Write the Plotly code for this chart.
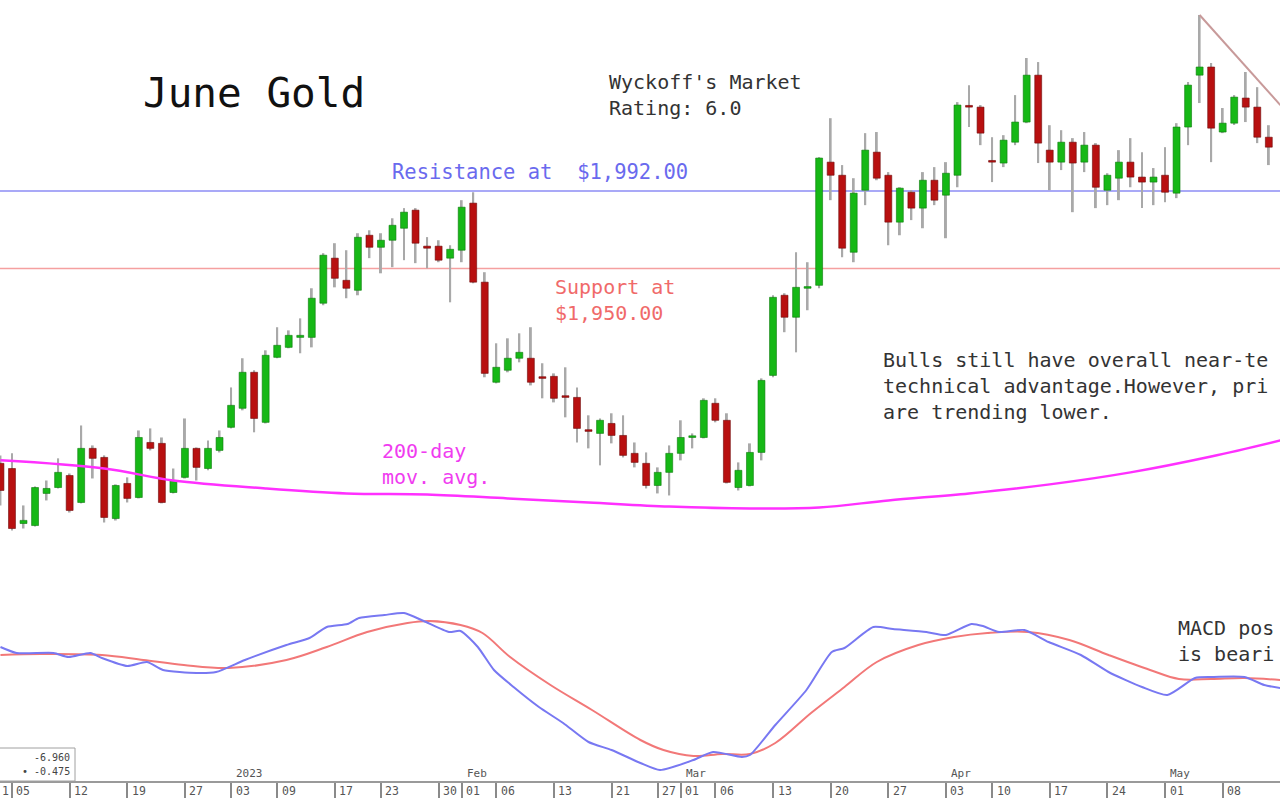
import plotly.graph_objects as go

# ---------------- data ----------------
day = list(range(-1, 110))  # trading-day index, 0 = 2022-12-05
open_ = [1844.5, 1841.7, 1811.9, 1810.8, 1828.2, 1831.4, 1837.9, 1823.3, 1852.6, 1847.7,
         1814.6, 1833.6, 1826.0, 1855.8, 1855.3, 1828.7, 1836.9, 1852.6, 1841.7, 1851.5,
         1864.0, 1874.3, 1893.8, 1866.7, 1901.9, 1907.3, 1912.7, 1912.7, 1931.2, 1955.6,
         1943.6, 1938.2, 1968.0, 1961.5, 1965.3, 1971.8, 1981.6, 1962.1, 1962.1, 1955.6,
         1959.9, 1985.4, 1942.6, 1888.4, 1894.9, 1901.4, 1901.4, 1891.1, 1891.6, 1880.8,
         1880.2, 1862.3, 1860.7, 1866.1, 1859.6, 1849.9, 1844.5, 1832.5, 1839.6, 1849.9,
         1858.5, 1858.5, 1877.0, 1867.8, 1831.4, 1832.5, 1850.4, 1892.1, 1935.5, 1923.6,
         1939.3, 1940.9, 2007.6, 2000.5, 1958.8, 1992.4, 2013.0, 2000.5, 1975.1, 1991.3,
         1982.7, 1997.8, 1989.7, 2000.5, 2037.9, 2037.4, 2008.1, 2007.1, 2018.4, 2029.3,
         2054.7, 2014.1, 2007.6, 2018.4, 2007.6, 2016.8, 1992.4, 1998.9, 2007.6, 1999.5,
         1996.8, 2000.5, 1990.8, 2026.6, 2054.7, 2059.1, 2023.9, 2028.7, 2042.3, 2037.4,
         2021.1]
high = [1848.8, 1849.9, 1821.7, 1832.0, 1835.2, 1847.2, 1839.0, 1865.0, 1854.2, 1848.8,
        1833.1, 1836.9, 1862.3, 1863.4, 1858.5, 1841.7, 1868.8, 1853.1, 1856.9, 1862.3,
        1885.6, 1901.4, 1894.9, 1905.7, 1918.2, 1916.5, 1923.0, 1939.3, 1958.3, 1963.7,
        1959.9, 1969.1, 1970.7, 1969.1, 1977.2, 1982.7, 1982.7, 1967.0, 1965.3, 1962.6,
        1987.0, 1991.3, 1948.0, 1909.5, 1912.2, 1914.9, 1918.2, 1898.7, 1893.2, 1896.5,
        1885.6, 1870.5, 1868.8, 1871.6, 1870.5, 1855.8, 1850.4, 1842.3, 1854.2, 1867.8,
        1860.7, 1879.7, 1879.7, 1871.6, 1845.0, 1855.3, 1890.5, 1935.5, 1936.6, 1958.8,
        1953.4, 2010.3, 2031.4, 2006.0, 1998.9, 2023.3, 2023.9, 2002.2, 1994.0, 1992.4,
        2002.2, 2004.9, 2007.6, 2040.1, 2049.3, 2038.5, 2021.1, 2022.2, 2043.9, 2064.0,
        2061.8, 2027.6, 2024.9, 2020.6, 2023.9, 2017.9, 2001.6, 2014.1, 2020.6, 2013.0,
        2004.4, 2015.7, 2028.7, 2051.0, 2087.3, 2061.3, 2036.9, 2043.9, 2056.4, 2048.2,
        2027.6]
low = [1821.7, 1808.1, 1809.2, 1810.3, 1824.4, 1830.9, 1817.9, 1822.8, 1836.3, 1812.5,
       1813.6, 1823.3, 1825.5, 1851.5, 1822.8, 1828.2, 1836.3, 1835.2, 1840.7, 1850.4,
       1863.4, 1873.2, 1861.3, 1866.1, 1901.4, 1906.8, 1904.1, 1907.3, 1930.1, 1939.8,
       1933.9, 1935.5, 1955.6, 1947.4, 1950.7, 1954.5, 1952.9, 1950.1, 1953.4, 1931.7,
       1953.4, 1942.0, 1891.1, 1887.8, 1893.8, 1899.2, 1886.7, 1879.7, 1877.5, 1869.4,
       1855.8, 1852.6, 1843.4, 1855.3, 1847.7, 1842.3, 1830.9, 1828.2, 1827.1, 1846.1,
       1852.6, 1858.0, 1866.7, 1833.6, 1829.8, 1832.0, 1846.1, 1891.1, 1915.5, 1904.6,
       1927.4, 1939.3, 1987.0, 1956.1, 1953.4, 1984.3, 1997.8, 1962.6, 1968.0, 1976.2,
       1971.8, 1984.3, 1966.4, 1994.0, 2026.6, 2016.8, 1996.8, 2004.9, 2016.8, 2028.7,
       2007.1, 1992.4, 2003.3, 1980.5, 2002.2, 1982.7, 1984.3, 1987.0, 1994.0, 1982.7,
       1984.3, 1985.9, 1988.1, 2016.8, 2039.6, 2007.6, 2023.3, 2027.7, 2029.3, 2017.9,
       2006.0]
close = [1829.8, 1809.2, 1813.6, 1831.4, 1830.9, 1839.6, 1819.0, 1852.6, 1847.2, 1815.2,
         1832.5, 1825.5, 1858.5, 1852.6, 1823.3, 1835.2, 1852.6, 1842.3, 1852.6, 1858.5,
         1875.9, 1893.8, 1868.8, 1903.0, 1908.4, 1913.8, 1913.8, 1933.9, 1957.2, 1944.7,
         1939.3, 1966.9, 1961.5, 1965.3, 1973.4, 1980.5, 1963.7, 1961.0, 1954.5, 1960.4,
         1983.2, 1942.6, 1893.2, 1896.5, 1901.4, 1904.6, 1888.4, 1890.5, 1879.7, 1880.2,
         1863.4, 1861.8, 1867.8, 1859.6, 1848.8, 1845.0, 1832.5, 1839.6, 1849.9, 1858.5,
         1859.1, 1878.6, 1867.8, 1834.2, 1840.7, 1850.4, 1889.4, 1934.4, 1923.6, 1939.8,
         1939.8, 2009.8, 2000.5, 1961.0, 1990.8, 2014.1, 1998.9, 1975.1, 1993.5, 1982.7,
         1997.8, 1987.0, 2001.6, 2038.5, 2037.4, 2023.3, 2007.6, 2019.5, 2029.3, 2054.7,
         2017.9, 2007.6, 2018.4, 2007.1, 2016.8, 1994.0, 2000.5, 2007.6, 1999.5, 1996.8,
         1999.5, 1991.3, 2026.6, 2049.3, 2059.1, 2026.0, 2028.7, 2042.8, 2037.4, 2021.1,
         2015.7]

ma_day = [-1, 8, 14, 22, 29, 36, 43, 50, 57, 64, 70, 76, 83, 90, 97, 104, 110]
ma_val = [1846.1, 1841.7, 1835.2, 1830.9, 1828.2, 1827.6, 1825.5, 1823.3, 1821.1, 1820.1,
          1820.6, 1824.4, 1828.2, 1833.1, 1839.6, 1848.2, 1856.9]

macd_day = [-1, 0.4, 3.6, 4.9, 6.8, 7.8, 10, 11.7, 13.1, 16, 17.7, 20.2, 23.8, 25.8, 27.3,
            29.1, 30.1, 32.3, 34, 35.7, 37.9, 38.9, 40.4, 41.8, 43.5, 45.7, 47.8, 50, 52,
            54.5, 56.2, 59.1, 60.8, 63.3, 64, 66.2, 68.9, 71.1, 72.2, 74.7, 76.4, 79.3, 81,
            83.2, 84.2, 85.6, 87.8, 89.9, 92.7, 95.1, 98, 100.2, 102.6, 104, 106.9, 108.6, 110]
macd_val = [21.2, 18.8, 18.8, 17.2, 18.8, 16.8, 13.6, 15.2, 12.0, 10.8, 11.2, 16.0, 22.0,
            24.8, 29.2, 30.4, 32.8, 34.0, 34.8, 31.6, 27.2, 27.6, 21.2, 12.0, 5.2, -2.8,
            -9.2, -16.8, -20.0, -25.2, -28.0, -24.0, -20.8, -22.8, -22.0, -10.0, 4.0, 19.2,
            20.8, 29.2, 28.4, 27.2, 26.0, 30.4, 29.6, 27.2, 28.0, 23.2, 18.0, 11.2, 5.2,
            2.0, 8.8, 9.2, 9.2, 6.0, 4.8]
sig_day = [-1, 2.5, 7.8, 11.4, 14.9, 18.8, 23.8, 27.3, 30.8, 34.3, 36.2, 38.9, 40.8, 43.2,
           46.7, 50.3, 54.5, 56.5, 59.1, 61.6, 64, 66.2, 69.3, 72.2, 75, 78.6, 81.7, 84.6,
           88.1, 91.7, 95.1, 98.7, 101.2, 104, 106.9, 110]
sig_val = [18.0, 18.4, 18.0, 16.0, 14.0, 12.8, 16.0, 21.2, 27.2, 30.8, 31.6, 30.0, 26.8,
           17.2, 6.0, -4.0, -16.0, -20.0, -22.4, -21.6, -21.6, -17.2, -5.2, 5.2, 15.2,
           22.0, 25.2, 26.8, 27.2, 24.0, 18.0, 12.0, 8.4, 8.4, 8.8, 8.0]

resistance = 1992.0
support = 1950.0
trend_day = [103, 110]
trend_val = [2087.3, 2038.5]

tick_day = [-2, 0, 5, 10, 15, 19, 23, 28, 32, 37, 39, 42, 47, 52, 56, 58, 61, 66, 71,
            76, 81, 85, 90, 95, 100, 105]
tick_lab = ["1", "05", "12", "19", "27", "03", "09", "17", "23", "30", "01", "06", "13",
            "21", "27", "01", "06", "13", "20", "27", "03", "10", "17", "24", "01", "08"]
month_day = [19, 39, 58, 81, 100]
month_lab = ["2023", "Feb", "Mar", "Apr", "May"]

# ---------------- layout constants ----------------
W, H = 1280, 805
X0, X1 = -1.04, 109.97
PRICE_RANGE = [1771.3, 2095.4]
MACD_RANGE = [-32.4, 40.0]
MONO = "DejaVu Sans Mono"


def px_x(p):
    return p / W


def px_y(p):
    return 1 - p / H


def day_paper(d):
    return (d - X0) / (X1 - X0)


fig = go.Figure()

# wicks
fig.add_trace(go.Bar(
    x=day, base=low, y=[h - l for h, l in zip(high, low)], width=0.17,
    marker=dict(color="#a9a9a9", line=dict(width=0)), xaxis="x", yaxis="y",
    showlegend=False, hoverinfo="skip"))

# bodies
up = [c >= o for o, c in zip(open_, close)]
fig.add_trace(go.Bar(
    x=day, base=[min(o, c) for o, c in zip(open_, close)],
    y=[max(abs(c - o), 0.9) for o, c in zip(open_, close)], width=0.6,
    marker=dict(color=["#16b816" if u else "#b81010" for u in up],
                line=dict(color=["#0a7a0a" if u else "#6e0a0a" for u in up], width=0.6)),
    xaxis="x", yaxis="y", showlegend=False, hoverinfo="skip"))

# 200-day moving average
fig.add_trace(go.Scatter(x=ma_day, y=ma_val, mode="lines",
                         line=dict(color="#ff30ff", width=2.5, shape="spline"),
                         xaxis="x", yaxis="y", showlegend=False, hoverinfo="skip"))

# trend line
fig.add_trace(go.Scatter(x=trend_day, y=trend_val, mode="lines",
                         line=dict(color="#c89a9a", width=2),
                         xaxis="x", yaxis="y", showlegend=False, hoverinfo="skip"))

# MACD panel
fig.add_trace(go.Scatter(x=sig_day, y=sig_val, mode="lines",
                         line=dict(color="#f27878", width=2, shape="spline"),
                         xaxis="x2", yaxis="y2", showlegend=False, hoverinfo="skip"))
fig.add_trace(go.Scatter(x=macd_day, y=macd_val, mode="lines",
                         line=dict(color="#7878f2", width=2, shape="spline", smoothing=0.6),
                         xaxis="x2", yaxis="y2", showlegend=False, hoverinfo="skip"))

shapes = [
    dict(type="line", xref="paper", x0=0, x1=1, yref="y", y0=resistance, y1=resistance,
         line=dict(color="#8c8cf5", width=1.5), layer="below"),
    dict(type="line", xref="paper", x0=0, x1=1, yref="y", y0=support, y1=support,
         line=dict(color="#f5a0a0", width=1.5), layer="below"),
    dict(type="line", xref="paper", x0=0, x1=1, y0=px_y(598.5), y1=px_y(598.5),
         line=dict(color="#9a9a9a", width=2)),
    dict(type="rect", xref="paper", yref="paper", x0=px_x(-2), x1=px_x(75),
         y0=px_y(781), y1=px_y(748), line=dict(color="#a0a0a0", width=1),
         fillcolor="white"),
]

ann = []


def text(t, x, y, color="#333333", size=20.5, family=MONO, xanchor="left"):
    ann.append(dict(text=t, x=px_x(x), y=px_y(y), xref="paper", yref="paper",
                    xanchor=xanchor, yanchor="middle", showarrow=False, align="left",
                    font=dict(family=family, size=size, color=color)))


text("June Gold", 141, 93, color="#111111", size=41, family=MONO)
text("Wyckoff's Market<br>Rating: 6.0", 607, 95, size=20)
text("Resistance at  $1,992.00", 390, 172, color="#6a6aee")
text("Support at<br>$1,950.00", 553, 300, color="#f06a6a", size=20)
text("200-day<br>mov. avg.", 380, 464, color="#f03cf0", size=20)
text("Bulls still have overall near-te<br>technical advantage.However, pri<br>"
     "are trending lower.", 881, 386, size=20)
text("MACD pos<br>is beari", 1176, 641, size=20)

# legend box values
text("-6.960", 72, 757, size=10, xanchor="right", color="#444444")
text("• -0.475", 72, 771, size=10, xanchor="right", color="#444444")

# x tick labels
for d, lab in zip(tick_day, tick_lab):
    xp = max(day_paper(d) + 2.5 / W, 0.0)
    ann.append(dict(text=lab, x=xp, y=px_y(791), xref="paper",
                    yref="paper", xanchor="left", yanchor="middle", showarrow=False,
                    font=dict(family=MONO, size=11.5, color="#555555")))
for d, lab in zip(month_day, month_lab):
    ann.append(dict(text=lab, x=day_paper(d) + 3 / W, y=px_y(773), xref="paper",
                    yref="paper", xanchor="left", yanchor="middle", showarrow=False,
                    font=dict(family=MONO, size=11, color="#555555")))

fig.update_layout(
    width=W, height=H, margin=dict(l=0, r=0, t=0, b=0),
    paper_bgcolor="white", plot_bgcolor="white", barmode="overlay",
    xaxis=dict(range=[X0, X1], visible=False, domain=[0, 1], anchor="y"),
    yaxis=dict(range=PRICE_RANGE, visible=False, domain=[px_y(598.5), 1], anchor="x"),
    xaxis2=dict(range=[X0, X1], domain=[0, 1], anchor="y2", showgrid=False,
                zeroline=False, showline=True, linecolor="#9a9a9a", linewidth=2,
                ticks="outside", tickvals=tick_day, ticklen=15, tickwidth=1.5,
                tickcolor="#8a8a8a", showticklabels=False),
    yaxis2=dict(range=MACD_RANGE, visible=False, domain=[px_y(781), px_y(600)],
                anchor="x2"),
    shapes=shapes, annotations=ann,
)

fig.write_html("out.html")
